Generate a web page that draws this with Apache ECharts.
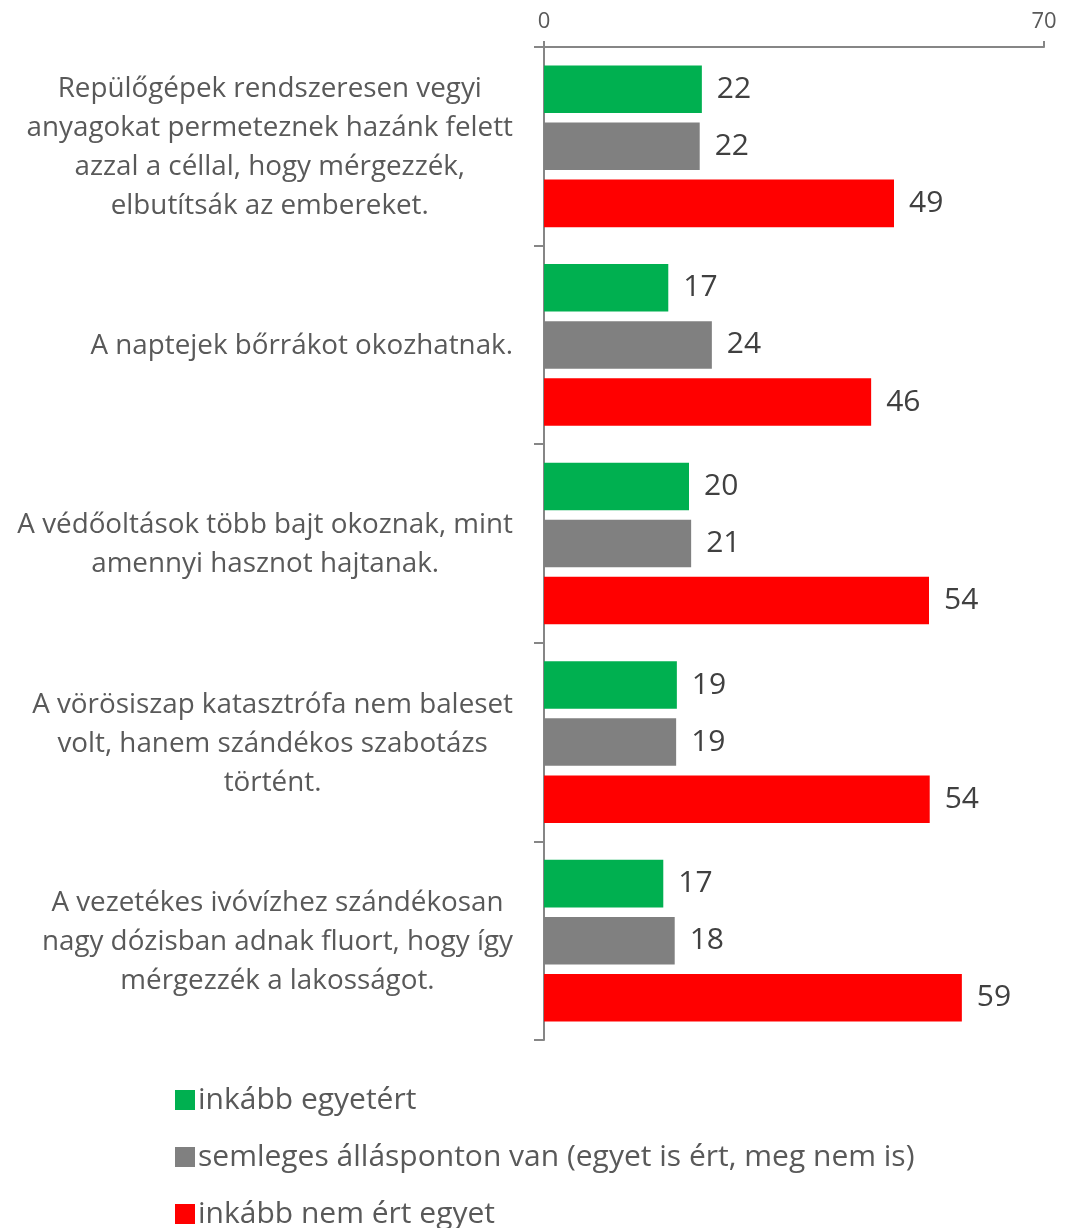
<!DOCTYPE html>
<html>
<head>
<meta charset="utf-8">
<script src="https://cdn.jsdelivr.net/npm/echarts@6/dist/echarts.min.js"></script>
<style>
html,body{margin:0;padding:0;background:#fff;}
#chart{width:1068px;height:1228px;}
</style>
</head>
<body>
<div id="chart"></div>
<script>
const categories = [
  "Repülőgépek rendszeresen vegyi\nanyagokat permeteznek hazánk felett\nazzal a céllal, hogy mérgezzék,\nelbutítsák az embereket.",
  "A naptejek bőrrákot okozhatnak.",
  "A védőoltások több bajt okoznak, mint\namennyi hasznot hajtanak.",
  "A vörösiszap katasztrófa nem baleset\nvolt, hanem szándékos szabotázs\ntörtént.",
  "A vezetékes ivóvízhez szándékosan\nnagy dózisban adnak fluort, hogy így\nmérgezzék a lakosságot."
];
const seriesNames = [
  "inkább egyetért",
  "semleges állásponton van (egyet is ért, meg nem is)",
  "inkább nem ért egyet"
];
const agree = [22.1, 17.4, 20.3, 18.6, 16.7];
const neutral = [21.8, 23.5, 20.6, 18.5, 18.3];
const disagree = [49.0, 45.8, 53.9, 54.0, 58.5];
const xTicks = [0, 70];

const FONT = "Open Sans";
const colors = ["#00B050", "#808080", "#FF0000"];

const chart = echarts.init(document.getElementById('chart'));
function mk(name, data, color) {
  return {
    name: name,
    type: 'bar',
    data: data,
    itemStyle: { color: color },
    barGap: '20%',
    barCategoryGap: '18.6%',
    label: {
      show: true,
      position: 'right',
      distance: 15,
      color: '#404040',
      fontFamily: FONT,
      fontSize: 30,
      padding: [5, 0, 0, 0],
      formatter: p => Math.round(p.value)
    }
  };
}
chart.setOption({
  animation: false,
  backgroundColor: '#fff',
  grid: { left: 544, right: 24, top: 47, bottom: 188, containLabel: false },
  xAxis: {
    type: 'value',
    position: 'top',
    min: xTicks[0],
    max: xTicks[1],
    interval: 70,
    splitLine: { show: false },
    axisLine: { show: true, lineStyle: { color: '#868686', width: 2 } },
    axisTick: { show: true, length: 6, lineStyle: { color: '#868686', width: 2 } },
    axisLabel: { color: '#595959', fontFamily: FONT, fontSize: 22, margin: 14 }
  },
  yAxis: {
    type: 'category',
    inverse: true,
    data: categories,
    axisLine: { show: true, lineStyle: { color: '#868686', width: 2 } },
    axisTick: { show: true, length: 10, lineStyle: { color: '#868686', width: 2 } },
    axisLabel: {
      margin: 31,
      align: 'right',
      formatter: v => v.split('\n').map(l => '{a|' + l + '}').join('\n'),
      rich: {
        a: { align: 'center', color: '#595959', fontFamily: FONT, fontSize: 27.8, lineHeight: 39, padding: [3, 0, 0, 0] }
      }
    }
  },
  legend: {
    orient: 'vertical',
    left: 170,
    top: 1078,
    height: 200,
    itemWidth: 20,
    itemHeight: 20,
    itemGap: 23,
    icon: 'rect',
    textStyle: { color: '#595959', fontFamily: FONT, fontSize: 30, lineHeight: 34, padding: [0, 0, 0, -2] },
    data: seriesNames
  },
  series: [
    mk(seriesNames[0], agree, colors[0]),
    mk(seriesNames[1], neutral, colors[1]),
    mk(seriesNames[2], disagree, colors[2])
  ]
});
</script>
</body>
</html>
